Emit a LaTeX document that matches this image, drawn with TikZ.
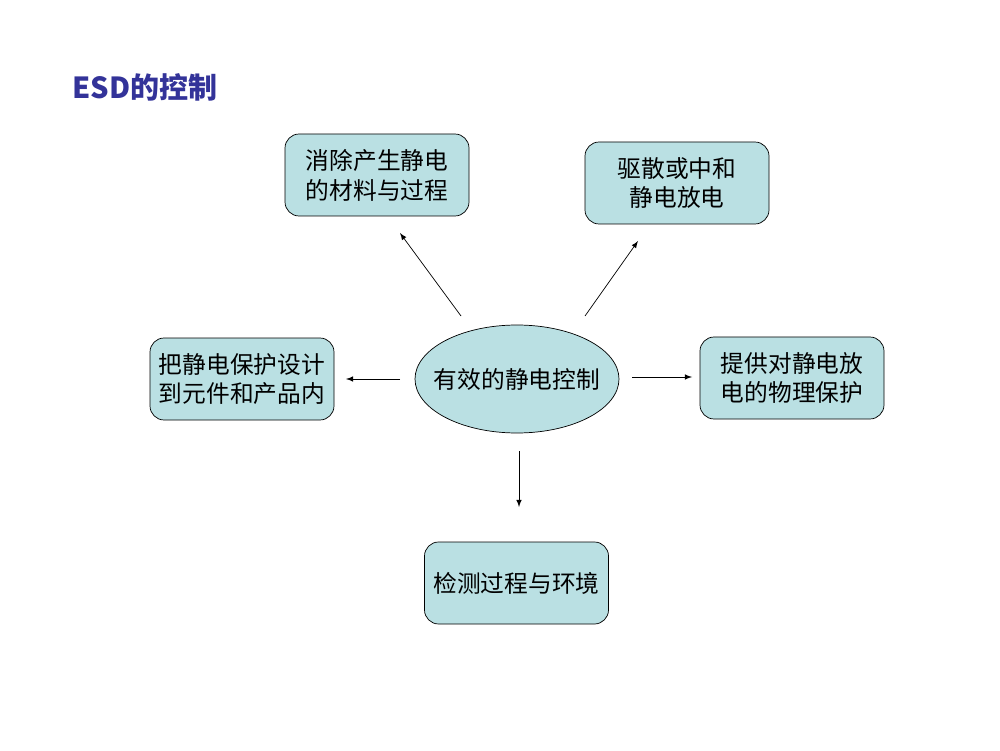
\documentclass[tikz,border=0pt]{standalone}
\usepackage{fontspec}
\newfontfamily\cjk{Noto Sans CJK SC}
\definecolor{titleblue}{HTML}{333399}
\definecolor{boxfill}{HTML}{BAE0E3}
\tikzset{
  box/.style={draw, rounded corners=8pt, fill=boxfill, minimum width=3.68cm, minimum height=1.64cm, align=center, font=\cjk\fontsize{13.5}{17}\selectfont},
  oval/.style={draw, ellipse, fill=boxfill, inner xsep=-0.25cm, minimum width=4.08cm, minimum height=2.16cm, font=\cjk\fontsize{13.5}{17}\selectfont}
}
\usetikzlibrary{shapes.geometric}
\begin{document}
\begin{tikzpicture}[>=latex]
    \useasboundingbox (0,0) rectangle (20,15);
    % Title
    \node[anchor=west, text=titleblue, font=\cjk\bfseries\fontsize{16.5}{19}\selectfont] (T) at (1.32, 13.25) {ESD的控制};

    % Center
    \node[oval] (E) at (10.34, 7.42) {有效的静电控制};

    % Boxes around
    \node[box] (B1) at (7.54, 11.5) {消除产生静电\\的材料与过程};
    \node[box] (B2) at (13.54, 11.34) {驱散或中和\\静电放电};
    \node[box] (B3) at (4.84, 7.42) {把静电保护设计\\到元件和产品内};
    \node[box] (B4) at (15.84, 7.44) {提供对静电放\\电的物理保护};
    \node[box] (B5) at (10.33, 3.34) {检测过程与环境};

    % Arrow ends
    \coordinate (a1) at (9.22, 8.68);
    \coordinate (b1) at (8.0, 10.34);
    \coordinate (a2) at (11.7, 8.68);
    \coordinate (b2) at (12.76, 10.18);
    \coordinate (a3) at (8.0, 7.42);
    \coordinate (b3) at (6.92, 7.42);
    \coordinate (a4) at (12.64, 7.46);
    \coordinate (b4) at (13.84, 7.46);
    \coordinate (a5) at (10.38, 5.98);
    \coordinate (b5) at (10.38, 4.86);

    % Edges
    \draw[->] (a1) -- (b1);
    \draw[->] (a2) -- (b2);
    \draw[->] (a3) -- (b3);
    \draw[->] (a4) -- (b4);
    \draw[->] (a5) -- (b5);
\end{tikzpicture}
\end{document}
